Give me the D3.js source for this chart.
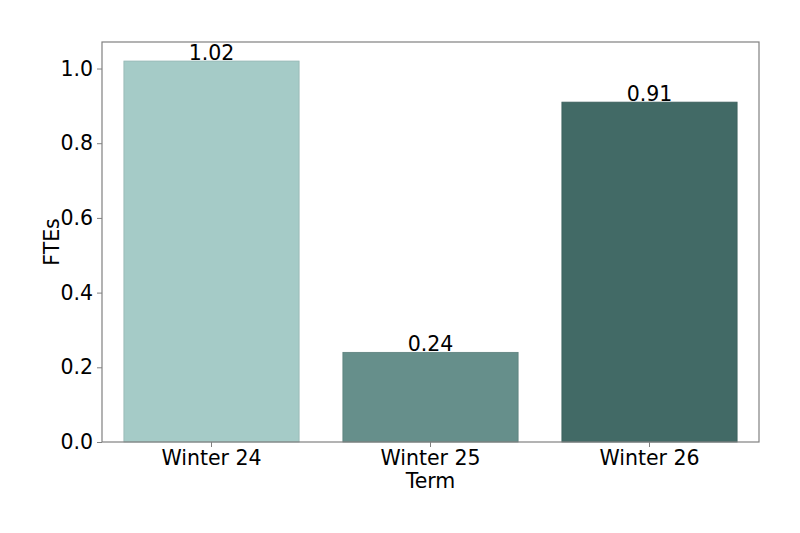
<!DOCTYPE html>
<html><head><meta charset="utf-8">
<script src="https://cdn.jsdelivr.net/npm/d3@7"></script>
<style>body{margin:0;background:#fff}svg{display:block;font-family:"DejaVu Sans",sans-serif}</style>
</head><body><svg id="c" width="800" height="533"></svg>
<script>
const categories = ["Winter 24", "Winter 25", "Winter 26"];
const values = [1.02, 0.24, 0.91];
const labels = ["1.02", "0.24", "0.91"];
const colors = ["#a5cbc7", "#668f8b", "#426a66"];
const yTicks = [0.0, 0.2, 0.4, 0.6, 0.8, 1.0];

const FS = "20.5px";
const svg = d3.select("#c");
const m = {l:102, r:759, t:42, b:442};
const x = d3.scaleBand().domain(categories).range([m.l, m.r]).paddingInner(0.2).paddingOuter(0.1);
const y = d3.scaleLinear().domain([0, 1.02*1.05]).range([m.b, m.t]);

svg.selectAll("rect.bar").data(values).join("rect").attr("class","bar")
  .attr("x",(d,i)=>x(categories[i])).attr("width",x.bandwidth())
  .attr("y",d=>y(d)).attr("height",d=>y(0)-y(d))
  .attr("fill",(d,i)=>colors[i]).attr("stroke",(d,i)=>d3.color(colors[i]).darker(0.3)).attr("stroke-width",0.8);

svg.selectAll("text.val").data(values).join("text").attr("class","val")
  .attr("x",(d,i)=>x(categories[i])+x.bandwidth()/2).attr("y",d=>y(d)-1)
  .attr("text-anchor","middle").attr("font-size",FS).attr("fill","#000")
  .text((d,i)=>labels[i]);

const ya = svg.append("g").attr("transform",`translate(${m.l},0)`)
  .call(d3.axisLeft(y).tickValues(yTicks).tickFormat(d3.format(".1f")).tickSize(5).tickPadding(4));
const xa = svg.append("g").attr("transform",`translate(0,${m.b})`)
  .call(d3.axisBottom(x).tickSize(5).tickPadding(3));
[ya,xa].forEach(a=>{a.select(".domain").remove();a.selectAll("line").attr("stroke","#808080");
  a.selectAll("text").attr("font-size",FS).attr("fill","#000").attr("font-family","DejaVu Sans");});

svg.append("rect").attr("x",m.l).attr("y",m.t).attr("width",m.r-m.l).attr("height",m.b-m.t)
  .attr("fill","none").attr("stroke","#808080").attr("stroke-width",1.2);

svg.append("text").attr("x",(m.l+m.r)/2).attr("y",488).attr("text-anchor","middle")
  .attr("font-size",FS).text("Term");
svg.append("text").attr("transform",`translate(59,${(m.t+m.b)/2}) rotate(-90)`).attr("text-anchor","middle")
  .attr("font-size",FS).text("FTEs");
</script></body></html>
